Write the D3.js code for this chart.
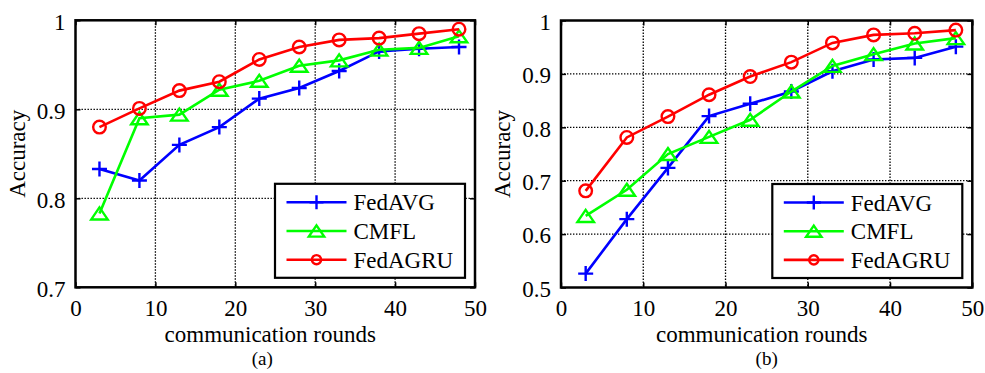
<!DOCTYPE html>
<meta charset="utf-8">
<head>
    <title>Accuracy vs communication rounds</title>
    <script type="text/javascript" src="https://cdn.jsdelivr.net/npm/d3@7/dist/d3.min.js"></script>
    <style>
        body { margin: 0; padding: 0; background: white; }
        text { font-family: "Liberation Serif", "Times New Roman", serif; fill: black; }
    </style>
</head>
<body>
<script>
    // Data
    const rounds = [3, 8, 13, 18, 23, 28, 33, 38, 43, 48];
    const seriesNames = ["FedAVG", "CMFL", "FedAGRU"];
    const seriesColors = ["#0000ff", "#00ff00", "#ff0000"];
    const seriesMarkers = ["plus", "triangle", "circle"];
    const xTicks = [0, 10, 20, 30, 40, 50];

    // panel (a)
    const yTicksA = [0.7, 0.8, 0.9, 1];
    const yTickLabelsA = ["0.7", "0.8", "0.9", "1"];
    const fedAvgA  = [0.833, 0.820, 0.860, 0.880, 0.912, 0.924, 0.943, 0.965, 0.968, 0.970];
    const cmflA    = [0.783, 0.890, 0.894, 0.922, 0.932, 0.949, 0.955, 0.967, 0.969, 0.982];
    const fedAgruA = [0.880, 0.901, 0.921, 0.931, 0.956, 0.970, 0.978, 0.980, 0.985, 0.990];

    // panel (b)
    const yTicksB = [0.5, 0.6, 0.7, 0.8, 0.9, 1];
    const yTickLabelsB = ["0.5", "0.6", "0.7", "0.8", "0.9", "1"];
    const fedAvgB  = [0.526, 0.628, 0.724, 0.821, 0.844, 0.867, 0.905, 0.927, 0.930, 0.951];
    const cmflB    = [0.634, 0.683, 0.750, 0.782, 0.814, 0.867, 0.915, 0.937, 0.957, 0.967];
    const fedAgruB = [0.681, 0.781, 0.820, 0.861, 0.895, 0.922, 0.958, 0.973, 0.976, 0.982];

    const width = 985, height = 373;
    const svg = d3.select("body").append("svg")
        .attr("width", width)
        .attr("height", height);

    function markerPath(type, s) {
        if (type === "plus") {
            return `M${-s},0H${s}M0,${-s}V${s}`;
        } else if (type === "triangle") {
            return `M0,${-s * 0.8}L${s * 1.1},${s * 0.8}L${-s * 1.1},${s * 0.8}Z`;
        }
        return d3.arc()({innerRadius: 0, outerRadius: s, startAngle: 0, endAngle: 2 * Math.PI});
    }

    function drawPanel(p) {
        const x = d3.scaleLinear().domain([0, 50]).range([p.left, p.right]);
        const y = d3.scaleLinear().domain(p.yDomain).range([p.bottom, p.top]);
        const g = svg.append("g");

        // grid
        g.append("g").selectAll("line")
            .data(xTicks.slice(1, -1)).enter().append("line")
            .attr("x1", d => x(d)).attr("x2", d => x(d))
            .attr("y1", p.top).attr("y2", p.bottom)
            .attr("stroke", "black").attr("stroke-width", 1.3)
            .attr("stroke-dasharray", "1.4,1.6");
        g.append("g").selectAll("line")
            .data(p.yTicks.slice(1, -1)).enter().append("line")
            .attr("x1", p.left).attr("x2", p.right)
            .attr("y1", d => y(d)).attr("y2", d => y(d))
            .attr("stroke", "black").attr("stroke-width", 1.3)
            .attr("stroke-dasharray", "1.4,1.6");

        // axes
        const xAxisB = d3.axisBottom(x).tickValues(xTicks).tickSize(-5).tickPadding(12).tickFormat(d3.format("d"));
        const xAxisT = d3.axisTop(x).tickValues(xTicks).tickSize(-5).tickFormat("");
        const yAxisL = d3.axisLeft(y).tickValues(p.yTicks).tickSize(-5).tickPadding(10)
            .tickFormat((d, i) => p.yLabels[i]);
        const yAxisR = d3.axisRight(y).tickValues(p.yTicks).tickSize(-5).tickFormat("");

        [[xAxisB, `translate(0,${p.bottom})`, 0], [xAxisT, `translate(0,${p.top})`, 0],
         [yAxisL, `translate(${p.left},0)`, 1], [yAxisR, `translate(${p.right},0)`, 0]].forEach(([ax, tr, isLeft]) => {
            const a = g.append("g").attr("transform", tr).call(ax);
            a.select(".domain").remove();
            a.selectAll("line").attr("stroke", "black").attr("stroke-width", 1.5);
            a.selectAll("text").attr("font-size", 23)
                .style("font-family", '"Liberation Serif", "Times New Roman", serif');
            if (isLeft) a.selectAll("text").attr("dy", "0.38em");
        });

        g.append("rect")
            .attr("x", p.left).attr("y", p.top)
            .attr("width", p.right - p.left).attr("height", p.bottom - p.top)
            .attr("fill", "none").attr("stroke", "black").attr("stroke-width", 2.5);

        // series
        p.series.forEach((vals, si) => {
            const pts = rounds.map((r, i) => [x(r), y(vals[i])]);
            g.append("path")
                .attr("d", d3.line()(pts))
                .attr("fill", "none")
                .attr("stroke", seriesColors[si]).attr("stroke-width", 2.6);
            g.append("g").selectAll("path")
                .data(pts).enter().append("path")
                .attr("transform", d => `translate(${d[0]},${d[1]})`)
                .attr("d", markerPath(seriesMarkers[si], seriesMarkers[si] === "circle" ? 6.3 : 7.5))
                .attr("fill", "none")
                .attr("stroke", seriesColors[si]).attr("stroke-width", 2.4);
        });

        // labels
        g.append("text")
            .attr("x", (p.left + p.right) / 2 - 5).attr("y", 341.5)
            .attr("text-anchor", "middle").attr("font-size", 23)
            .text("communication rounds");
        g.append("text")
            .attr("transform", `translate(${p.left - 51},${(p.top + p.bottom) / 2}) rotate(-90)`)
            .attr("text-anchor", "middle").attr("font-size", 23)
            .text("Accuracy");
        g.append("text")
            .attr("x", (p.left + p.right) / 2 + p.capOffset).attr("y", 365)
            .attr("text-anchor", "middle").attr("font-size", 19)
            .text(p.caption);

        // legend
        const lw = 190, lh = 94;
        const lx = p.right - 10 - lw, ly = p.bottom - 9.5 - lh;
        const lg = g.append("g").attr("transform", `translate(${lx},${ly})`);
        lg.append("rect").attr("width", lw).attr("height", lh)
            .attr("fill", "white").attr("stroke", "black").attr("stroke-width", 2.2);
        seriesNames.forEach((name, si) => {
            const yy = 18.5 + si * 28.7;
            lg.append("line").attr("x1", 11.5).attr("x2", 71.5).attr("y1", yy).attr("y2", yy)
                .attr("stroke", seriesColors[si]).attr("stroke-width", 2.6);
            lg.append("path").attr("transform", `translate(41.5,${yy})`)
                .attr("d", markerPath(seriesMarkers[si], seriesMarkers[si] === "circle" ? 4.6 : 7))
                .attr("fill", "none").attr("stroke", seriesColors[si]).attr("stroke-width", 2.4);
            lg.append("text").attr("x", 78.5).attr("y", yy + 8)
                .attr("font-size", 23).text(name);
        });
    }

    drawPanel({
        left: 75.5, right: 475, top: 20.3, bottom: 287.3,
        yDomain: [0.7, 1], yTicks: yTicksA, yLabels: yTickLabelsA,
        series: [fedAvgA, cmflA, fedAgruA], caption: "(a)", capOffset: -13
    });
    drawPanel({
        left: 561, right: 972.3, top: 20.5, bottom: 287.5,
        yDomain: [0.5, 1], yTicks: yTicksB, yLabels: yTickLabelsB,
        series: [fedAvgB, cmflB, fedAgruB], caption: "(b)", capOffset: 0
    });
</script>
</body>
</html>
